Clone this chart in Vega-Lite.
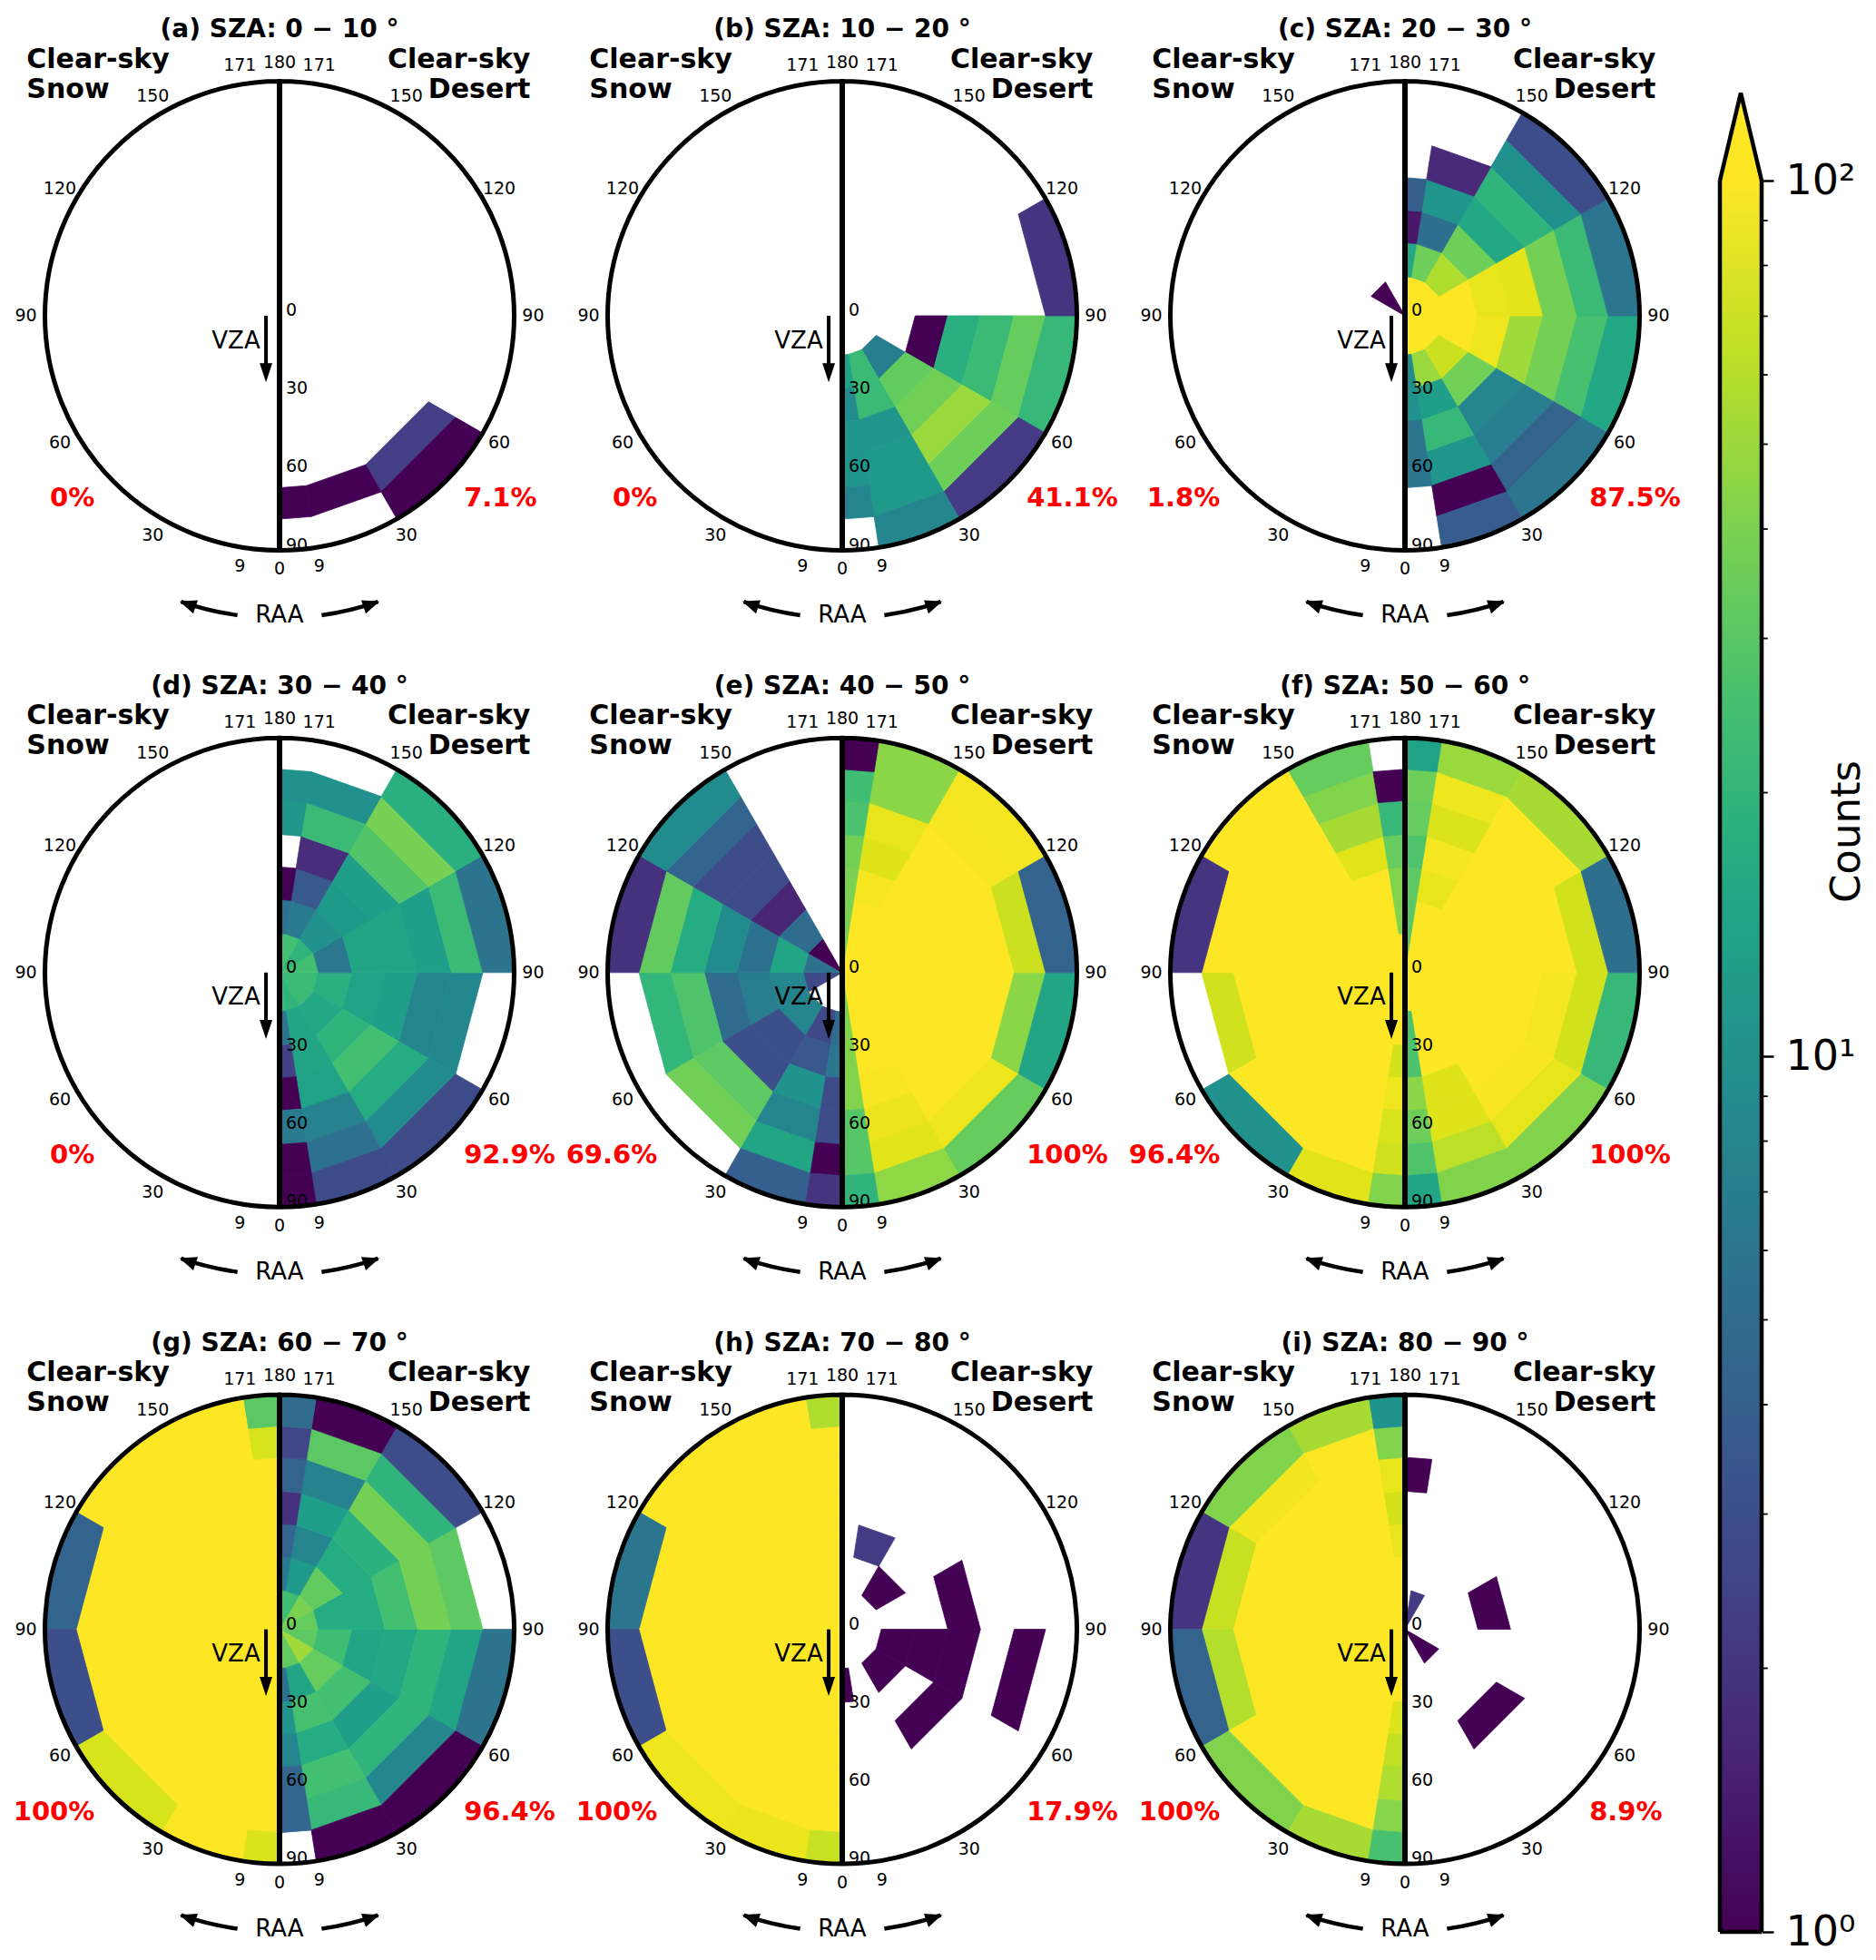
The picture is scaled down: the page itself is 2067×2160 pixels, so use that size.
{"$schema":"https://vega.github.io/schema/vega-lite/v6.json","padding":{"left":0,"top":19,"right":0,"bottom":0},"background":"white","config":{"font":"DejaVu Sans","view":{"stroke":null},"concat":{"spacing":30}},"hconcat":[{"data":{"values":[
{"p":"a","snow":"0%","desert":"7.1%"},{"p":"b","snow":"0%","desert":"41.1%"},{"p":"c","snow":"1.8%","desert":"87.5%"},{"p":"d","snow":"0%","desert":"92.9%"},{"p":"e","snow":"69.6%","desert":"100%"},{"p":"f","snow":"96.4%","desert":"100%"},{"p":"g","snow":"100%","desert":"96.4%"},{"p":"h","snow":"100%","desert":"17.9%"},{"p":"i","snow":"100%","desert":"8.9%"},
{"p":"a","a":3,"v":6,"n":2.3},{"p":"a","a":3,"v":7,"n":1},{"p":"a","a":2,"v":6,"n":1},{"p":"a","a":1,"v":6,"n":1},
{"p":"b","a":4,"v":3,"n":1},{"p":"b","a":4,"v":4,"n":18},{"p":"b","a":4,"v":5,"n":23},{"p":"b","a":4,"v":6,"n":34},{"p":"b","a":4,"v":7,"n":22},{"p":"b","a":5,"v":7,"n":2},{"p":"b","a":3,"v":2,"n":7},{"p":"b","a":3,"v":3,"n":33},{"p":"b","a":3,"v":4,"n":37},{"p":"b","a":3,"v":5,"n":50},{"p":"b","a":3,"v":6,"n":36},{"p":"b","a":3,"v":7,"n":2.2},{"p":"b","a":2,"v":2,"n":23},{"p":"b","a":2,"v":3,"n":23},{"p":"b","a":2,"v":4,"n":11},{"p":"b","a":2,"v":5,"n":12},{"p":"b","a":2,"v":6,"n":12},{"p":"b","a":2,"v":7,"n":8},{"p":"b","a":1,"v":2,"n":14},{"p":"b","a":1,"v":3,"n":9},{"p":"b","a":1,"v":4,"n":11},{"p":"b","a":1,"v":5,"n":11},{"p":"b","a":1,"v":6,"n":8},
{"p":"c","a":-6,"v":1,"n":1},{"p":"c","a":4,"v":1,"n":100},{"p":"c","a":4,"v":2,"n":100},{"p":"c","a":4,"v":3,"n":90},{"p":"c","a":4,"v":4,"n":52},{"p":"c","a":4,"v":5,"n":38},{"p":"c","a":4,"v":6,"n":26},{"p":"c","a":4,"v":7,"n":16},{"p":"c","a":5,"v":1,"n":100},{"p":"c","a":5,"v":2,"n":100},{"p":"c","a":5,"v":3,"n":85},{"p":"c","a":5,"v":4,"n":83},{"p":"c","a":5,"v":5,"n":38},{"p":"c","a":5,"v":6,"n":23},{"p":"c","a":5,"v":7,"n":6},{"p":"c","a":6,"v":1,"n":100},{"p":"c","a":6,"v":2,"n":58},{"p":"c","a":6,"v":3,"n":36},{"p":"c","a":6,"v":4,"n":16},{"p":"c","a":6,"v":5,"n":20},{"p":"c","a":6,"v":6,"n":10},{"p":"c","a":6,"v":7,"n":2.9},{"p":"c","a":7,"v":1,"n":100},{"p":"c","a":7,"v":2,"n":36},{"p":"c","a":7,"v":3,"n":5.2},{"p":"c","a":7,"v":4,"n":11},{"p":"c","a":7,"v":5,"n":1.7},{"p":"c","a":8,"v":1,"n":100},{"p":"c","a":8,"v":2,"n":16},{"p":"c","a":8,"v":3,"n":1.3},{"p":"c","a":8,"v":4,"n":4},{"p":"c","a":3,"v":1,"n":100},{"p":"c","a":3,"v":2,"n":70},{"p":"c","a":3,"v":3,"n":37},{"p":"c","a":3,"v":4,"n":8},{"p":"c","a":3,"v":5,"n":7},{"p":"c","a":3,"v":6,"n":4.2},{"p":"c","a":3,"v":7,"n":6},{"p":"c","a":2,"v":1,"n":100},{"p":"c","a":2,"v":2,"n":50},{"p":"c","a":2,"v":3,"n":13},{"p":"c","a":2,"v":4,"n":22},{"p":"c","a":2,"v":5,"n":11},{"p":"c","a":2,"v":6,"n":1},{"p":"c","a":2,"v":7,"n":3.8},{"p":"c","a":1,"v":1,"n":100},{"p":"c","a":1,"v":2,"n":9},{"p":"c","a":1,"v":3,"n":10},{"p":"c","a":1,"v":4,"n":6},{"p":"c","a":1,"v":5,"n":6},
{"p":"d","a":4,"v":1,"n":23},{"p":"d","a":4,"v":2,"n":18},{"p":"d","a":4,"v":3,"n":14},{"p":"d","a":4,"v":4,"n":13},{"p":"d","a":4,"v":5,"n":8},{"p":"d","a":4,"v":6,"n":8.5},{"p":"d","a":5,"v":1,"n":25},{"p":"d","a":5,"v":2,"n":6.3},{"p":"d","a":5,"v":3,"n":15},{"p":"d","a":5,"v":4,"n":15},{"p":"d","a":5,"v":5,"n":13},{"p":"d","a":5,"v":6,"n":23},{"p":"d","a":5,"v":7,"n":5.8},{"p":"d","a":6,"v":1,"n":20},{"p":"d","a":6,"v":2,"n":10},{"p":"d","a":6,"v":3,"n":12},{"p":"d","a":6,"v":4,"n":13},{"p":"d","a":6,"v":5,"n":29},{"p":"d","a":6,"v":6,"n":39},{"p":"d","a":6,"v":7,"n":18},{"p":"d","a":7,"v":1,"n":25},{"p":"d","a":7,"v":2,"n":6.5},{"p":"d","a":7,"v":3,"n":3.6},{"p":"d","a":7,"v":4,"n":1.8},{"p":"d","a":7,"v":5,"n":23},{"p":"d","a":7,"v":6,"n":10},{"p":"d","a":8,"v":1,"n":25},{"p":"d","a":8,"v":2,"n":5.6},{"p":"d","a":8,"v":3,"n":1},{"p":"d","a":8,"v":5,"n":11},{"p":"d","a":8,"v":6,"n":10},{"p":"d","a":3,"v":1,"n":23},{"p":"d","a":3,"v":2,"n":16},{"p":"d","a":3,"v":3,"n":20},{"p":"d","a":3,"v":4,"n":25},{"p":"d","a":3,"v":5,"n":17},{"p":"d","a":3,"v":6,"n":9},{"p":"d","a":3,"v":7,"n":2.8},{"p":"d","a":2,"v":1,"n":20},{"p":"d","a":2,"v":2,"n":15},{"p":"d","a":2,"v":3,"n":15},{"p":"d","a":2,"v":4,"n":14},{"p":"d","a":2,"v":5,"n":7.5},{"p":"d","a":2,"v":6,"n":5.5},{"p":"d","a":2,"v":7,"n":2.8},{"p":"d","a":1,"v":1,"n":22},{"p":"d","a":1,"v":2,"n":6},{"p":"d","a":1,"v":3,"n":2.4},{"p":"d","a":1,"v":4,"n":1},{"p":"d","a":1,"v":5,"n":6.5},{"p":"d","a":1,"v":6,"n":1},{"p":"d","a":1,"v":7,"n":1},
{"p":"e","a":4,"v":1,"n":100},{"p":"e","a":4,"v":2,"n":100},{"p":"e","a":4,"v":3,"n":100},{"p":"e","a":4,"v":4,"n":100},{"p":"e","a":4,"v":5,"n":100},{"p":"e","a":4,"v":6,"n":45},{"p":"e","a":4,"v":7,"n":15},{"p":"e","a":5,"v":1,"n":100},{"p":"e","a":5,"v":2,"n":100},{"p":"e","a":5,"v":3,"n":100},{"p":"e","a":5,"v":4,"n":100},{"p":"e","a":5,"v":5,"n":100},{"p":"e","a":5,"v":6,"n":70},{"p":"e","a":5,"v":7,"n":4.2},{"p":"e","a":6,"v":1,"n":100},{"p":"e","a":6,"v":2,"n":100},{"p":"e","a":6,"v":3,"n":100},{"p":"e","a":6,"v":4,"n":100},{"p":"e","a":6,"v":5,"n":100},{"p":"e","a":6,"v":6,"n":95},{"p":"e","a":6,"v":7,"n":93},{"p":"e","a":7,"v":1,"n":100},{"p":"e","a":7,"v":2,"n":100},{"p":"e","a":7,"v":3,"n":95},{"p":"e","a":7,"v":4,"n":80},{"p":"e","a":7,"v":5,"n":85},{"p":"e","a":7,"v":6,"n":45},{"p":"e","a":7,"v":7,"n":45},{"p":"e","a":8,"v":1,"n":40},{"p":"e","a":8,"v":2,"n":40},{"p":"e","a":8,"v":3,"n":40},{"p":"e","a":8,"v":4,"n":38},{"p":"e","a":8,"v":5,"n":27},{"p":"e","a":8,"v":6,"n":24},{"p":"e","a":8,"v":7,"n":1},{"p":"e","a":3,"v":1,"n":100},{"p":"e","a":3,"v":2,"n":100},{"p":"e","a":3,"v":3,"n":100},{"p":"e","a":3,"v":4,"n":100},{"p":"e","a":3,"v":5,"n":100},{"p":"e","a":3,"v":6,"n":90},{"p":"e","a":3,"v":7,"n":34},{"p":"e","a":2,"v":1,"n":100},{"p":"e","a":2,"v":2,"n":100},{"p":"e","a":2,"v":3,"n":100},{"p":"e","a":2,"v":4,"n":96},{"p":"e","a":2,"v":5,"n":88},{"p":"e","a":2,"v":6,"n":82},{"p":"e","a":2,"v":7,"n":46},{"p":"e","a":1,"v":1,"n":40},{"p":"e","a":1,"v":2,"n":42},{"p":"e","a":1,"v":3,"n":42},{"p":"e","a":1,"v":4,"n":42},{"p":"e","a":1,"v":5,"n":30},{"p":"e","a":1,"v":6,"n":30},{"p":"e","a":1,"v":7,"n":20},
{"p":"e","a":-4,"v":1,"n":2.7},{"p":"e","a":-4,"v":2,"n":8},{"p":"e","a":-4,"v":3,"n":7},{"p":"e","a":-4,"v":4,"n":5},{"p":"e","a":-4,"v":5,"n":28},{"p":"e","a":-4,"v":6,"n":21},{"p":"e","a":-5,"v":1,"n":5.5},{"p":"e","a":-5,"v":2,"n":15},{"p":"e","a":-5,"v":3,"n":5.6},{"p":"e","a":-5,"v":4,"n":9},{"p":"e","a":-5,"v":5,"n":17},{"p":"e","a":-5,"v":6,"n":33},{"p":"e","a":-5,"v":7,"n":1.9},{"p":"e","a":-6,"v":1,"n":1},{"p":"e","a":-6,"v":2,"n":5},{"p":"e","a":-6,"v":3,"n":1.6},{"p":"e","a":-6,"v":4,"n":2.8},{"p":"e","a":-6,"v":5,"n":2.8},{"p":"e","a":-6,"v":6,"n":4.3},{"p":"e","a":-6,"v":7,"n":9},{"p":"e","a":-3,"v":2,"n":8},{"p":"e","a":-3,"v":3,"n":3},{"p":"e","a":-3,"v":4,"n":3},{"p":"e","a":-3,"v":5,"n":32},{"p":"e","a":-3,"v":6,"n":37},{"p":"e","a":-2,"v":2,"n":2.7},{"p":"e","a":-2,"v":3,"n":3.5},{"p":"e","a":-2,"v":4,"n":10.5},{"p":"e","a":-2,"v":5,"n":8},{"p":"e","a":-2,"v":6,"n":15},{"p":"e","a":-2,"v":7,"n":4},{"p":"e","a":-1,"v":2,"n":5},{"p":"e","a":-1,"v":3,"n":6},{"p":"e","a":-1,"v":4,"n":2.8},{"p":"e","a":-1,"v":5,"n":2.8},{"p":"e","a":-1,"v":6,"n":1},{"p":"e","a":-1,"v":7,"n":2},
{"p":"f","a":4,"v":1,"n":100},{"p":"f","a":4,"v":2,"n":100},{"p":"f","a":4,"v":3,"n":100},{"p":"f","a":4,"v":4,"n":100},{"p":"f","a":4,"v":5,"n":93},{"p":"f","a":4,"v":6,"n":73},{"p":"f","a":4,"v":7,"n":22},{"p":"f","a":5,"v":1,"n":100},{"p":"f","a":5,"v":2,"n":100},{"p":"f","a":5,"v":3,"n":100},{"p":"f","a":5,"v":4,"n":100},{"p":"f","a":5,"v":5,"n":100},{"p":"f","a":5,"v":6,"n":73},{"p":"f","a":5,"v":7,"n":5.3},{"p":"f","a":6,"v":1,"n":100},{"p":"f","a":6,"v":2,"n":100},{"p":"f","a":6,"v":3,"n":100},{"p":"f","a":6,"v":4,"n":100},{"p":"f","a":6,"v":5,"n":100},{"p":"f","a":6,"v":6,"n":100},{"p":"f","a":6,"v":7,"n":55},{"p":"f","a":7,"v":1,"n":100},{"p":"f","a":7,"v":2,"n":100},{"p":"f","a":7,"v":3,"n":85},{"p":"f","a":7,"v":4,"n":93},{"p":"f","a":7,"v":5,"n":78},{"p":"f","a":7,"v":6,"n":90},{"p":"f","a":7,"v":7,"n":50},{"p":"f","a":8,"v":1,"n":30},{"p":"f","a":8,"v":2,"n":30},{"p":"f","a":8,"v":3,"n":32},{"p":"f","a":8,"v":4,"n":28},{"p":"f","a":8,"v":5,"n":34},{"p":"f","a":8,"v":6,"n":36},{"p":"f","a":8,"v":7,"n":14},{"p":"f","a":3,"v":1,"n":100},{"p":"f","a":3,"v":2,"n":100},{"p":"f","a":3,"v":3,"n":100},{"p":"f","a":3,"v":4,"n":100},{"p":"f","a":3,"v":5,"n":98},{"p":"f","a":3,"v":6,"n":85},{"p":"f","a":3,"v":7,"n":42},{"p":"f","a":2,"v":1,"n":100},{"p":"f","a":2,"v":2,"n":100},{"p":"f","a":2,"v":3,"n":100},{"p":"f","a":2,"v":4,"n":80},{"p":"f","a":2,"v":5,"n":80},{"p":"f","a":2,"v":6,"n":63},{"p":"f","a":2,"v":7,"n":42},{"p":"f","a":1,"v":1,"n":100},{"p":"f","a":1,"v":2,"n":27},{"p":"f","a":1,"v":3,"n":27},{"p":"f","a":1,"v":4,"n":45},{"p":"f","a":1,"v":5,"n":36},{"p":"f","a":1,"v":6,"n":28},{"p":"f","a":1,"v":7,"n":15},
{"p":"f","a":-4,"v":1,"n":100},{"p":"f","a":-4,"v":2,"n":100},{"p":"f","a":-4,"v":3,"n":100},{"p":"f","a":-4,"v":4,"n":100},{"p":"f","a":-4,"v":5,"n":100},{"p":"f","a":-4,"v":6,"n":72},{"p":"f","a":-5,"v":1,"n":100},{"p":"f","a":-5,"v":2,"n":100},{"p":"f","a":-5,"v":3,"n":100},{"p":"f","a":-5,"v":4,"n":100},{"p":"f","a":-5,"v":5,"n":100},{"p":"f","a":-5,"v":6,"n":100},{"p":"f","a":-5,"v":7,"n":2},{"p":"f","a":-6,"v":1,"n":100},{"p":"f","a":-6,"v":2,"n":100},{"p":"f","a":-6,"v":3,"n":100},{"p":"f","a":-6,"v":4,"n":100},{"p":"f","a":-6,"v":5,"n":100},{"p":"f","a":-6,"v":6,"n":100},{"p":"f","a":-6,"v":7,"n":100},{"p":"f","a":-7,"v":1,"n":100},{"p":"f","a":-7,"v":2,"n":100},{"p":"f","a":-7,"v":3,"n":100},{"p":"f","a":-7,"v":4,"n":82},{"p":"f","a":-7,"v":5,"n":55},{"p":"f","a":-7,"v":6,"n":42},{"p":"f","a":-7,"v":7,"n":34},{"p":"f","a":-8,"v":1,"n":100},{"p":"f","a":-8,"v":2,"n":42},{"p":"f","a":-8,"v":3,"n":42},{"p":"f","a":-8,"v":4,"n":34},{"p":"f","a":-8,"v":5,"n":22},{"p":"f","a":-8,"v":6,"n":1},{"p":"f","a":-3,"v":1,"n":100},{"p":"f","a":-3,"v":2,"n":100},{"p":"f","a":-3,"v":3,"n":100},{"p":"f","a":-3,"v":4,"n":100},{"p":"f","a":-3,"v":5,"n":100},{"p":"f","a":-3,"v":6,"n":100},{"p":"f","a":-3,"v":7,"n":10},{"p":"f","a":-2,"v":1,"n":100},{"p":"f","a":-2,"v":2,"n":100},{"p":"f","a":-2,"v":3,"n":100},{"p":"f","a":-2,"v":4,"n":100},{"p":"f","a":-2,"v":5,"n":100},{"p":"f","a":-2,"v":6,"n":100},{"p":"f","a":-2,"v":7,"n":82},{"p":"f","a":-1,"v":1,"n":100},{"p":"f","a":-1,"v":2,"n":100},{"p":"f","a":-1,"v":3,"n":75},{"p":"f","a":-1,"v":4,"n":90},{"p":"f","a":-1,"v":5,"n":76},{"p":"f","a":-1,"v":6,"n":72},{"p":"f","a":-1,"v":7,"n":42},
{"p":"g","a":-8,"v":1,"n":100},{"p":"g","a":-8,"v":2,"n":100},{"p":"g","a":-8,"v":3,"n":100},{"p":"g","a":-8,"v":4,"n":100},{"p":"g","a":-8,"v":5,"n":100},{"p":"g","a":-8,"v":6,"n":76},{"p":"g","a":-8,"v":7,"n":31},{"p":"g","a":-7,"v":1,"n":100},{"p":"g","a":-7,"v":2,"n":100},{"p":"g","a":-7,"v":3,"n":100},{"p":"g","a":-7,"v":4,"n":100},{"p":"g","a":-7,"v":5,"n":100},{"p":"g","a":-7,"v":6,"n":100},{"p":"g","a":-7,"v":7,"n":100},{"p":"g","a":-6,"v":1,"n":100},{"p":"g","a":-6,"v":2,"n":100},{"p":"g","a":-6,"v":3,"n":100},{"p":"g","a":-6,"v":4,"n":100},{"p":"g","a":-6,"v":5,"n":100},{"p":"g","a":-6,"v":6,"n":100},{"p":"g","a":-6,"v":7,"n":100},{"p":"g","a":-5,"v":1,"n":100},{"p":"g","a":-5,"v":2,"n":100},{"p":"g","a":-5,"v":3,"n":100},{"p":"g","a":-5,"v":4,"n":100},{"p":"g","a":-5,"v":5,"n":100},{"p":"g","a":-5,"v":6,"n":100},{"p":"g","a":-5,"v":7,"n":4.3},{"p":"g","a":-4,"v":1,"n":100},{"p":"g","a":-4,"v":2,"n":100},{"p":"g","a":-4,"v":3,"n":100},{"p":"g","a":-4,"v":4,"n":100},{"p":"g","a":-4,"v":5,"n":100},{"p":"g","a":-4,"v":6,"n":100},{"p":"g","a":-4,"v":7,"n":3},{"p":"g","a":-3,"v":1,"n":100},{"p":"g","a":-3,"v":2,"n":100},{"p":"g","a":-3,"v":3,"n":100},{"p":"g","a":-3,"v":4,"n":100},{"p":"g","a":-3,"v":5,"n":100},{"p":"g","a":-3,"v":6,"n":100},{"p":"g","a":-3,"v":7,"n":76},{"p":"g","a":-2,"v":1,"n":100},{"p":"g","a":-2,"v":2,"n":100},{"p":"g","a":-2,"v":3,"n":100},{"p":"g","a":-2,"v":4,"n":100},{"p":"g","a":-2,"v":5,"n":100},{"p":"g","a":-2,"v":6,"n":100},{"p":"g","a":-2,"v":7,"n":100},{"p":"g","a":-1,"v":1,"n":100},{"p":"g","a":-1,"v":2,"n":100},{"p":"g","a":-1,"v":3,"n":100},{"p":"g","a":-1,"v":4,"n":100},{"p":"g","a":-1,"v":5,"n":100},{"p":"g","a":-1,"v":6,"n":100},{"p":"g","a":-1,"v":7,"n":78},
{"p":"g","a":4,"v":1,"n":32},{"p":"g","a":4,"v":2,"n":24},{"p":"g","a":4,"v":3,"n":15},{"p":"g","a":4,"v":4,"n":16},{"p":"g","a":4,"v":5,"n":20},{"p":"g","a":4,"v":6,"n":15},{"p":"g","a":4,"v":7,"n":5.8},{"p":"g","a":5,"v":1,"n":34},{"p":"g","a":5,"v":2,"n":17},{"p":"g","a":5,"v":3,"n":17},{"p":"g","a":5,"v":4,"n":25},{"p":"g","a":5,"v":5,"n":38},{"p":"g","a":5,"v":6,"n":32},{"p":"g","a":6,"v":1,"n":40},{"p":"g","a":6,"v":2,"n":33},{"p":"g","a":6,"v":3,"n":17},{"p":"g","a":6,"v":4,"n":19},{"p":"g","a":6,"v":5,"n":38},{"p":"g","a":6,"v":6,"n":20},{"p":"g","a":6,"v":7,"n":2.9},{"p":"g","a":7,"v":1,"n":24},{"p":"g","a":7,"v":2,"n":12},{"p":"g","a":7,"v":3,"n":8},{"p":"g","a":7,"v":4,"n":13},{"p":"g","a":7,"v":5,"n":7.5},{"p":"g","a":7,"v":6,"n":31},{"p":"g","a":7,"v":7,"n":1},{"p":"g","a":8,"v":1,"n":24},{"p":"g","a":8,"v":2,"n":6.5},{"p":"g","a":8,"v":3,"n":4.5},{"p":"g","a":8,"v":4,"n":1.9},{"p":"g","a":8,"v":5,"n":4.2},{"p":"g","a":8,"v":6,"n":2.6},{"p":"g","a":8,"v":7,"n":5},{"p":"g","a":3,"v":1,"n":52},{"p":"g","a":3,"v":2,"n":34},{"p":"g","a":3,"v":3,"n":25},{"p":"g","a":3,"v":4,"n":13},{"p":"g","a":3,"v":5,"n":20},{"p":"g","a":3,"v":6,"n":8.5},{"p":"g","a":3,"v":7,"n":1},{"p":"g","a":2,"v":1,"n":33},{"p":"g","a":2,"v":2,"n":15},{"p":"g","a":2,"v":3,"n":26},{"p":"g","a":2,"v":4,"n":17},{"p":"g","a":2,"v":5,"n":25},{"p":"g","a":2,"v":6,"n":22},{"p":"g","a":2,"v":7,"n":1},{"p":"g","a":1,"v":1,"n":33},{"p":"g","a":1,"v":2,"n":5.5},{"p":"g","a":1,"v":3,"n":11},{"p":"g","a":1,"v":4,"n":8},{"p":"g","a":1,"v":5,"n":4.5},{"p":"g","a":1,"v":6,"n":4.5},
{"p":"h","a":-8,"v":1,"n":100},{"p":"h","a":-8,"v":2,"n":100},{"p":"h","a":-8,"v":3,"n":100},{"p":"h","a":-8,"v":4,"n":100},{"p":"h","a":-8,"v":5,"n":100},{"p":"h","a":-8,"v":6,"n":100},{"p":"h","a":-8,"v":7,"n":58},{"p":"h","a":-7,"v":1,"n":100},{"p":"h","a":-7,"v":2,"n":100},{"p":"h","a":-7,"v":3,"n":100},{"p":"h","a":-7,"v":4,"n":100},{"p":"h","a":-7,"v":5,"n":100},{"p":"h","a":-7,"v":6,"n":100},{"p":"h","a":-7,"v":7,"n":100},{"p":"h","a":-6,"v":1,"n":100},{"p":"h","a":-6,"v":2,"n":100},{"p":"h","a":-6,"v":3,"n":100},{"p":"h","a":-6,"v":4,"n":100},{"p":"h","a":-6,"v":5,"n":100},{"p":"h","a":-6,"v":6,"n":100},{"p":"h","a":-6,"v":7,"n":100},{"p":"h","a":-5,"v":1,"n":100},{"p":"h","a":-5,"v":2,"n":100},{"p":"h","a":-5,"v":3,"n":100},{"p":"h","a":-5,"v":4,"n":100},{"p":"h","a":-5,"v":5,"n":100},{"p":"h","a":-5,"v":6,"n":100},{"p":"h","a":-5,"v":7,"n":6},{"p":"h","a":-4,"v":1,"n":100},{"p":"h","a":-4,"v":2,"n":100},{"p":"h","a":-4,"v":3,"n":100},{"p":"h","a":-4,"v":4,"n":100},{"p":"h","a":-4,"v":5,"n":100},{"p":"h","a":-4,"v":6,"n":100},{"p":"h","a":-4,"v":7,"n":3},{"p":"h","a":-3,"v":1,"n":100},{"p":"h","a":-3,"v":2,"n":100},{"p":"h","a":-3,"v":3,"n":100},{"p":"h","a":-3,"v":4,"n":100},{"p":"h","a":-3,"v":5,"n":100},{"p":"h","a":-3,"v":6,"n":100},{"p":"h","a":-3,"v":7,"n":90},{"p":"h","a":-2,"v":1,"n":100},{"p":"h","a":-2,"v":2,"n":100},{"p":"h","a":-2,"v":3,"n":100},{"p":"h","a":-2,"v":4,"n":100},{"p":"h","a":-2,"v":5,"n":100},{"p":"h","a":-2,"v":6,"n":100},{"p":"h","a":-2,"v":7,"n":88},{"p":"h","a":-1,"v":1,"n":100},{"p":"h","a":-1,"v":2,"n":100},{"p":"h","a":-1,"v":3,"n":100},{"p":"h","a":-1,"v":4,"n":100},{"p":"h","a":-1,"v":5,"n":100},{"p":"h","a":-1,"v":6,"n":100},{"p":"h","a":-1,"v":7,"n":68},
{"p":"h","a":7,"v":3,"n":2.2},{"p":"h","a":6,"v":2,"n":1},{"p":"h","a":5,"v":4,"n":1},{"p":"h","a":4,"v":2,"n":1},{"p":"h","a":4,"v":3,"n":1},{"p":"h","a":4,"v":4,"n":1},{"p":"h","a":4,"v":6,"n":1},{"p":"h","a":3,"v":2,"n":1},{"p":"h","a":3,"v":4,"n":1},{"p":"h","a":1,"v":2,"n":1},
{"p":"i","a":-8,"v":1,"n":100},{"p":"i","a":-8,"v":2,"n":100},{"p":"i","a":-8,"v":3,"n":85},{"p":"i","a":-8,"v":4,"n":75},{"p":"i","a":-8,"v":5,"n":85},{"p":"i","a":-8,"v":6,"n":42},{"p":"i","a":-8,"v":7,"n":10.5},{"p":"i","a":-7,"v":1,"n":100},{"p":"i","a":-7,"v":2,"n":100},{"p":"i","a":-7,"v":3,"n":100},{"p":"i","a":-7,"v":4,"n":100},{"p":"i","a":-7,"v":5,"n":100},{"p":"i","a":-7,"v":6,"n":100},{"p":"i","a":-7,"v":7,"n":55},{"p":"i","a":-6,"v":1,"n":100},{"p":"i","a":-6,"v":2,"n":100},{"p":"i","a":-6,"v":3,"n":100},{"p":"i","a":-6,"v":4,"n":100},{"p":"i","a":-6,"v":5,"n":100},{"p":"i","a":-6,"v":6,"n":92},{"p":"i","a":-6,"v":7,"n":42},{"p":"i","a":-5,"v":1,"n":100},{"p":"i","a":-5,"v":2,"n":100},{"p":"i","a":-5,"v":3,"n":100},{"p":"i","a":-5,"v":4,"n":100},{"p":"i","a":-5,"v":5,"n":100},{"p":"i","a":-5,"v":6,"n":68},{"p":"i","a":-5,"v":7,"n":2},{"p":"i","a":-4,"v":1,"n":100},{"p":"i","a":-4,"v":2,"n":100},{"p":"i","a":-4,"v":3,"n":100},{"p":"i","a":-4,"v":4,"n":100},{"p":"i","a":-4,"v":5,"n":100},{"p":"i","a":-4,"v":6,"n":60},{"p":"i","a":-4,"v":7,"n":4.2},{"p":"i","a":-3,"v":1,"n":100},{"p":"i","a":-3,"v":2,"n":100},{"p":"i","a":-3,"v":3,"n":100},{"p":"i","a":-3,"v":4,"n":100},{"p":"i","a":-3,"v":5,"n":100},{"p":"i","a":-3,"v":6,"n":100},{"p":"i","a":-3,"v":7,"n":42},{"p":"i","a":-2,"v":1,"n":100},{"p":"i","a":-2,"v":2,"n":100},{"p":"i","a":-2,"v":3,"n":100},{"p":"i","a":-2,"v":4,"n":100},{"p":"i","a":-2,"v":5,"n":100},{"p":"i","a":-2,"v":6,"n":100},{"p":"i","a":-2,"v":7,"n":55},{"p":"i","a":-1,"v":1,"n":100},{"p":"i","a":-1,"v":2,"n":100},{"p":"i","a":-1,"v":3,"n":78},{"p":"i","a":-1,"v":4,"n":66},{"p":"i","a":-1,"v":5,"n":58},{"p":"i","a":-1,"v":6,"n":44},{"p":"i","a":-1,"v":7,"n":26},
{"p":"i","a":8,"v":5,"n":1},{"p":"i","a":7,"v":1,"n":2.2},{"p":"i","a":5,"v":3,"n":1},{"p":"i","a":3,"v":1,"n":1},{"p":"i","a":3,"v":4,"n":1}
]},
"transform":[
{"lookup":"a","from":{"data":{"values":[{"a":1,"raa0":0,"raa1":9},{"a":2,"raa0":9,"raa1":30},{"a":3,"raa0":30,"raa1":60},{"a":4,"raa0":60,"raa1":90},{"a":5,"raa0":90,"raa1":120},{"a":6,"raa0":120,"raa1":150},{"a":7,"raa0":150,"raa1":171},{"a":8,"raa0":171,"raa1":180},{"a":-1,"raa0":-9,"raa1":0},{"a":-2,"raa0":-30,"raa1":-9},{"a":-3,"raa0":-60,"raa1":-30},{"a":-4,"raa0":-90,"raa1":-60},{"a":-5,"raa0":-120,"raa1":-90},{"a":-6,"raa0":-150,"raa1":-120},{"a":-7,"raa0":-171,"raa1":-150},{"a":-8,"raa0":-180,"raa1":-171}]},"key":"a","fields":["raa0","raa1"]}},
{"lookup":"v","from":{"data":{"values":[{"v":1,"vza0":0,"vza1":15},{"v":2,"vza0":15,"vza1":28},{"v":3,"vza0":28,"vza1":40.5},{"v":4,"vza0":40.5,"vza1":53},{"v":5,"vza0":53,"vza1":66},{"v":6,"vza0":66,"vza1":78},{"v":7,"vza0":78,"vza1":90}]},"key":"v","fields":["vza0","vza1"]}}
],
"facet":{"field":"p","type":"nominal","title":null,"header":{"title":null,"labelFontSize":28,"labelFontWeight":"bold","labelColor":"black","labelPadding":-14,"labelOrient":"top","labelExpr":"{'a':'(a) SZA: 0 − 10 °','b':'(b) SZA: 10 − 20 °','c':'(c) SZA: 20 − 30 °','d':'(d) SZA: 30 − 40 °','e':'(e) SZA: 40 − 50 °','f':'(f) SZA: 50 − 60 °','g':'(g) SZA: 60 − 70 °','h':'(h) SZA: 70 − 80 °','i':'(i) SZA: 80 − 90 °'}[datum.value]"}},
"columns":3,"spacing":{"row":50.8,"column":4},
"spec":{"width":616,"height":630,
"encoding":{
"x":{"type":"quantitative","axis":null,"scale":{"domain":[-107.2,107.2]}},
"y":{"type":"quantitative","axis":null,"scale":{"domain":[-109.67,109.67],"reverse":true}}
},
"layer":[
{"transform":[{"filter":"isValid(datum.n)"},{"calculate":"(180-datum.raa0)*PI/180","as":"t0"},{"calculate":"(180-datum.raa1)*PI/180","as":"t1"},{"calculate":"'M'+round(datum.vza0*sin(datum.t0)*111.11)/10000+' '+round(-datum.vza0*cos(datum.t0)*111.11)/10000+'L'+round(datum.vza1*sin(datum.t0)*111.11)/10000+' '+round(-datum.vza1*cos(datum.t0)*111.11)/10000+(datum.v==7?'A1 1 0 0 0 ':'L')+round(datum.vza1*sin(datum.t1)*111.11)/10000+' '+round(-datum.vza1*cos(datum.t1)*111.11)/10000+'L'+round(datum.vza0*sin(datum.t1)*111.11)/10000+' '+round(-datum.vza0*cos(datum.t1)*111.11)/10000+'Z'","as":"cell"}],"mark":{"type":"point","filled":true,"opacity":1,"size":267289,"strokeWidth":0.8},"encoding":{"x":{"datum":0},"y":{"datum":0},
"shape":{"field":"cell","type":"nominal","scale":null},
"color":{"field":"n","type":"quantitative","legend":null,"title":"Counts","scale":{"type":"log","domain":[1,100],"scheme":"viridis","clamp":true}},
"stroke":{"field":"n","type":"quantitative","legend":null,"scale":{"type":"log","domain":[1,100],"scheme":"viridis","clamp":true}}}},
{"data":{"values":[{"from":180,"to":-180}]},"mark":{"type":"arc","fill":null,"stroke":"black","strokeWidth":5},"encoding":{"x":null,"y":null,"theta":{"field":"from","type":"quantitative","stack":null,"scale":{"domain":[180,-180],"range":[0,6.283185307]}},"theta2":{"field":"to"},"radius":{"datum":90,"scale":{"type":"linear","domain":[0,90],"range":[0,258.5]}},"radius2":{"datum":0}}},
{"data":{"values":[{"y0":-90,"y1":90}]},"mark":{"type":"rule","stroke":"black","strokeWidth":6},"encoding":{"x":{"datum":0},"y":{"field":"y0","type":"quantitative"},"y2":{"field":"y1"}}},
{"data":{"values":[{"raa":180},{"raa":171},{"raa":150},{"raa":120},{"raa":90},{"raa":60},{"raa":30},{"raa":9},{"raa":0},{"raa":-171},{"raa":-150},{"raa":-120},{"raa":-90},{"raa":-60},{"raa":-30},{"raa":-9}]},"transform":[{"calculate":"abs(datum.raa)","as":"label"}],"mark":{"type":"text","fontSize":19,"color":"black","align":"center","baseline":"middle"},"encoding":{"x":null,"y":null,"theta":{"field":"raa","type":"quantitative","stack":null,"scale":{"domain":[180,-180],"range":[0,6.283185307]}},"radius":{"datum":97.3,"scale":{"type":"linear","domain":[0,90],"range":[0,258.5]}},"text":{"field":"label","type":"quantitative"}}},
{"data":{"values":[{"vza":0},{"vza":30},{"vza":60},{"vza":90}]},"mark":{"type":"text","fontSize":19,"color":"black","align":"left","baseline":"middle","dx":7,"dy":-6},"encoding":{"x":{"datum":0},"y":{"field":"vza","type":"quantitative"},"text":{"field":"vza","type":"quantitative"}}},
{"transform":[{"filter":"datum.snow"}],"mark":{"type":"text","fontSize":29,"fontWeight":"bold","color":"#ff0000","align":"right","baseline":"middle"},"encoding":{"x":{"datum":-70.9},"y":{"datum":70},"text":{"field":"snow"}}},
{"transform":[{"filter":"datum.desert"}],"mark":{"type":"text","fontSize":29,"fontWeight":"bold","color":"#ff0000","align":"left","baseline":"middle"},"encoding":{"x":{"datum":70.7},"y":{"datum":70},"text":{"field":"desert"}}},
{"data":{"values":[{"label":"Clear-sky Snow"}]},"mark":{"type":"text","text":["Clear-sky","Snow"],"fontSize":30,"fontWeight":"bold","color":"black","align":"left","baseline":"alphabetic","lineHeight":33},"encoding":{"x":{"datum":-97},"y":{"datum":-95.2}}},
{"data":{"values":[{"label":"Clear-sky Desert"}]},"mark":{"type":"text","text":["Clear-sky","Desert"],"fontSize":30,"fontWeight":"bold","color":"black","align":"right","baseline":"alphabetic","lineHeight":33},"encoding":{"x":{"datum":96.2},"y":{"datum":-95.2}}},
{"data":{"values":[{"label":"VZA"}]},"mark":{"type":"text","fontSize":26,"color":"black","align":"center","baseline":"middle"},"encoding":{"x":{"datum":-16.7},"y":{"datum":9.6},"text":{"field":"label"}}},
{"data":{"values":[{"y0":0,"y1":20}]},"mark":{"type":"rule","stroke":"black","strokeWidth":4},"encoding":{"x":{"datum":-5.2},"y":{"field":"y0","type":"quantitative"},"y2":{"field":"y1"}}},
{"data":{"values":[{"tip":18.2}]},"mark":{"type":"point","filled":true,"color":"black","opacity":1,"size":196,"shape":"M -1 0 L 0 3 L 1 0 Z"},"encoding":{"x":{"datum":-5.2},"y":{"field":"tip","type":"quantitative"}}},
{"data":{"values":[{"label":"RAA"}]},"mark":{"type":"text","fontSize":26,"color":"black","align":"center","baseline":"middle"},"encoding":{"x":{"datum":0},"y":{"datum":115},"text":{"field":"label"}}},
{"data":{"values":[{"from":8,"to":19},{"from":-8,"to":-19}]},"mark":{"type":"arc","fill":null,"stroke":"black","strokeWidth":4.5},"encoding":{"x":null,"y":null,"theta":{"field":"from","type":"quantitative","stack":null,"scale":{"domain":[180,-180],"range":[0,6.283185307]}},"theta2":{"field":"to"},"radius":{"datum":116,"scale":{"type":"linear","domain":[0,90],"range":[0,258.5]}},"radius2":{"datum":116}}},
{"data":{"values":[{"hx":34.5,"hy":110.9,"ang":71},{"hx":-34.5,"hy":110.9,"ang":-71}]},"mark":{"type":"point","filled":true,"color":"black","opacity":1,"size":240,"shape":"M -1 0.9 L 0 -1.5 L 1 0.9 Z"},"encoding":{"x":{"field":"hx","type":"quantitative"},"y":{"field":"hy","type":"quantitative"},"angle":{"field":"ang","type":"quantitative","scale":null}}}
]}},
{"width":46,"height":2100,
"encoding":{"x":{"type":"quantitative","axis":null,"scale":{"domain":[0,1]}},"y":{"type":"quantitative","scale":{"type":"log","domain":[1,100],"range":[2096,166]},"axis":{"values":[1,10,100],"orient":"right","domain":false,"grid":false,"tickSize":13,"tickWidth":2.5,"tickColor":"black","labelFontSize":46,"labelColor":"black","labelPadding":13,"labelExpr":"datum.value==1?'10⁰':datum.value==10?'10¹':'10²'","title":"Counts","titleFontSize":45,"titleFontWeight":"normal","titleColor":"black","titleAngle":270,"titleAlign":"center","titleBaseline":"middle","titleX":93,"titleY":883}}},
"layer":[
{"data":{"values":[{"low":1,"high":100}]},"mark":{"type":"rect","fill":{"x1":0,"y1":1,"x2":0,"y2":0,"gradient":"linear","stops":[{"offset":0,"color":"#440154"},{"offset":0.1,"color":"#482475"},{"offset":0.2,"color":"#414487"},{"offset":0.3,"color":"#355f8d"},{"offset":0.4,"color":"#2a788e"},{"offset":0.5,"color":"#21918c"},{"offset":0.6,"color":"#22a884"},{"offset":0.7,"color":"#44bf70"},{"offset":0.8,"color":"#7ad151"},{"offset":0.9,"color":"#bddf26"},{"offset":1,"color":"#fde725"}]}},"encoding":{"x":{"datum":0},"x2":{"datum":1},"y":{"field":"low"},"y2":{"field":"high"}}},
{"data":{"values":[{"tick":2},{"tick":3},{"tick":4},{"tick":5},{"tick":6},{"tick":7},{"tick":8},{"tick":9},{"tick":20},{"tick":30},{"tick":40},{"tick":50},{"tick":60},{"tick":70},{"tick":80},{"tick":90}]},"mark":{"type":"rule","stroke":"black","strokeWidth":1.8},"encoding":{"x":{"datum":1},"x2":{"datum":1.146},"y":{"field":"tick"}}},
{"data":{"values":[{"side":0,"low":1,"high":100},{"side":1,"low":1,"high":100}]},"mark":{"type":"rule","stroke":"black","strokeWidth":4.5},"encoding":{"x":{"field":"side"},"y":{"field":"low"},"y2":{"field":"high"}}},
{"data":{"values":[{"low":1}]},"mark":{"type":"rule","stroke":"black","strokeWidth":4.5},"encoding":{"x":{"datum":0},"x2":{"datum":1},"y":{"field":"low"}}},
{"data":{"values":[{"top":100}]},"mark":{"type":"point","filled":true,"fill":"#fde725","stroke":"black","strokeWidth":4.5,"opacity":1,"size":2116,"shape":"M -1 0 L 0 -4.2 L 1 0"},"encoding":{"x":{"datum":0.5},"y":{"field":"top"}}}
]}
]}
